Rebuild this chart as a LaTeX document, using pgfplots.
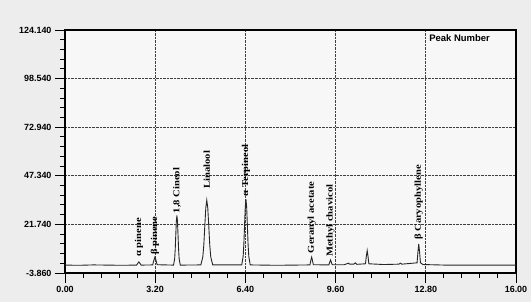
\documentclass[border=0pt]{standalone}
\usepackage{fontspec}
\setmainfont{Liberation Serif}
\newfontfamily\sansb{Liberation Sans}
\usepackage{pgfplots}
\pgfplotsset{compat=1.18}
\newcommand{\lab}[1]{\scalebox{1.18}[1]{\bfseries\fontsize{9}{10}\selectfont #1}}
\begin{document}
\begin{tikzpicture}
\fill[black!7] (-65bp,-29bp) rectangle (466bp,273bp);
\useasboundingbox (-65bp,-29bp) rectangle (466bp,273bp);
\begin{axis}[
  scale only axis, width=451bp, height=243bp,
  xmin=0, xmax=16, ymin=-3.86, ymax=124.14,
  xtick={0,3.2,6.4,9.6,12.8,16},
  ytick={-3.86,21.74,47.34,72.94,98.54,124.14},
  minor tick num=4,
  tick align=outside, xtick pos=left, ytick pos=left,
  major tick length=10bp, minor tick length=5bp,
  every tick/.style={black, line width=1pt},
  axis line style={black, line width=1.3pt},
  axis background/.style={fill=black!3},
  grid=major,
  major grid style={black!75, densely dotted, line width=0.8pt},
  /pgf/number format/assume math mode=true,
  ticklabel style={font=\sansb\bfseries\fontsize{9}{10}\selectfont},
  xticklabel style={/pgf/number format/.cd, fixed, fixed zerofill, precision=2},
  yticklabel style={/pgf/number format/.cd, fixed, fixed zerofill, precision=3},
  scaled ticks=false,
  clip=false,
]
\addplot[black!85, line width=0.9pt] coordinates {
(0,0.3)(0.5,0.2)(1.0,0.4)(1.5,0.3)(2.0,0.2)(2.54,0.3)(2.58,1.2)(2.62,2.0)(2.66,1.2)(2.70,0.3)
(3.11,0.4)(3.15,2.7)(3.19,4.5)(3.23,2.7)(3.27,0.5)
(3.85,0.3)(3.89,3.6)(3.91,8.5)(3.93,16.1)(3.95,23.4)(3.97,26.5)(3.99,23.4)(4.01,16.1)(4.03,8.5)(4.05,3.6)(4.09,0.3)
(4.82,0.4)(4.89,4.7)(4.925,11)(4.96,21)(4.995,30.4)(5.03,34.5)(5.065,30.4)(5.10,21)(5.135,11)(5.17,4.7)(5.24,0.4)
(6.27,0.4)(6.32,4.9)(6.345,11.2)(6.37,21.3)(6.395,30.8)(6.42,35)(6.445,30.8)(6.47,21.3)(6.495,11.2)(6.52,4.9)(6.57,0.4)
(7.5,0.2)(8.69,0.4)(8.72,2.7)(8.75,4.5)(8.78,2.7)(8.81,0.5)
(9.36,0.4)(9.39,1.8)(9.42,3.0)(9.45,1.8)(9.48,0.5)
(9.9,0.5)(10.0,1.0)(10.05,1.3)(10.1,0.8)(10.25,0.8)(10.3,1.5)(10.35,0.7)
(10.66,1.0)(10.69,4.9)(10.72,8.0)(10.75,4.9)(10.78,1.0)
(11.3,0.6)(11.85,0.8)(11.9,1.3)(11.95,0.8)
(12.49,1.5)(12.52,7)(12.55,11.5)(12.58,7)(12.61,1.5)(12.7,0.6)(13.5,0.3)(16,0.3)
};
\node[rotate=90, anchor=west, inner sep=0pt] at (axis cs:2.62,4.6) {\lab{α pinene}};
\node[rotate=90, anchor=west, inner sep=0pt] at (axis cs:3.19,5.6) {\lab{β pinene}};
\node[rotate=90, anchor=west, inner sep=0pt] at (axis cs:3.97,27.5) {\lab{1,8 Cineol}};
\node[rotate=90, anchor=west, inner sep=0pt] at (axis cs:5.03,40.5) {\lab{Linalool}};
\node[rotate=90, anchor=west, inner sep=0pt] at (axis cs:6.42,36.5) {\lab{α Terpineol}};
\node[rotate=90, anchor=west, inner sep=0pt] at (axis cs:8.75,6.5) {\lab{Geranyl acetate}};
\node[rotate=90, anchor=west, inner sep=0pt] at (axis cs:9.42,4.6) {\lab{Methyl chavicol}};
\node[rotate=90, anchor=west, inner sep=0pt] at (axis cs:12.55,13.5) {\lab{β Caryophyllene}};
\node[font=\sansb\bfseries\fontsize{9.5}{10}\selectfont] at (axis cs:14.0,119.9) {Peak Number};
\end{axis}
\end{tikzpicture}
\end{document}
